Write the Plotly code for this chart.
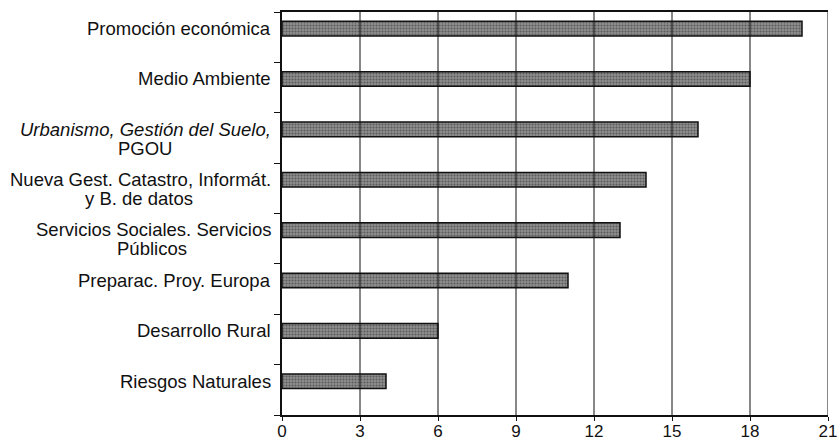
import plotly.graph_objects as go

# data
line1 = [
    "Promoción económica",
    "Medio Ambiente",
    "<i>Urbanismo, Gestión del Suelo,</i>",
    "Nueva Gest. Catastro, Informát.",
    "Servicios Sociales. Servicios",
    "Preparac. Proy. Europa",
    "Desarrollo Rural",
    "Riesgos Naturales",
]
line2 = ["", "", "PGOU", "y B. de datos", "Públicos", "", "", ""]
values = [20, 18, 16, 14, 13, 11, 6, 4]
x_ticks = [0, 3, 6, 9, 12, 15, 18, 21]

keys = ["c%d" % i for i in range(len(line1))]

# style / layout constants
FONT = "Liberation Sans, Arial, sans-serif"
LABEL_SIZE = 18.5
BAR_SHIFT_PX = 8.7          # bars sit above the slot centre
LINE_GAP_PX = 19
LINE2_CENTER_SHIFT = {2: -137, 3: -143, 4: -130}

fig = go.Figure(go.Bar(
    x=values, y=keys, orientation="h",
    marker=dict(
        color="#7a7a7a",
        line=dict(color="#111111", width=1.5),
        pattern=dict(shape=".", fgcolor="#2a2a2a", bgcolor="#8e8e8e",
                     size=3, solidity=0.4),
    ),
    width=0.29, offset=0.025,
))

annotations = []
for i, k in enumerate(keys):
    annotations.append(dict(
        x=0, xref="paper", xanchor="right", xshift=-9,
        y=k, yref="y", yanchor="middle", yshift=BAR_SHIFT_PX,
        text=line1[i], showarrow=False,
        font=dict(family=FONT, size=LABEL_SIZE, color="#111111"),
    ))
    if line2[i]:
        annotations.append(dict(
            x=0, xref="paper", xanchor="center",
            xshift=LINE2_CENTER_SHIFT[i],
            y=k, yref="y", yanchor="middle",
            yshift=BAR_SHIFT_PX - LINE_GAP_PX,
            text=line2[i], showarrow=False,
            font=dict(family=FONT, size=LABEL_SIZE, color="#111111"),
        ))

# vertical grid lines drawn above the bars, as in the reference
shapes = [
    dict(type="line", xref="x", yref="paper", x0=t, x1=t, y0=0, y1=1,
         line=dict(color="#111111", width=1), layer="above")
    for t in x_ticks[1:]
]

fig.update_layout(
    width=837, height=445,
    margin=dict(l=282, r=9, t=12, b=30),
    paper_bgcolor="white", plot_bgcolor="white",
    showlegend=False,
    annotations=annotations,
    shapes=shapes,
    font=dict(family=FONT, size=17, color="#111111"),
    xaxis=dict(
        range=[0, 21], tickvals=x_ticks, ticktext=[str(v) for v in x_ticks],
        tickfont=dict(size=17),
        ticklabeloverflow="allow",
        ticklabelstandoff=-4,
        showgrid=False,
        showline=True, linecolor="#111111", linewidth=1.5, mirror=True,
        ticks="outside", ticklen=4, tickcolor="#111111",
        zeroline=False, automargin=False,
    ),
    yaxis=dict(
        categoryorder="array", categoryarray=keys[::-1],
        range=[-0.5, len(keys) - 0.5],
        showticklabels=False,
        tickson="boundaries", ticks="outside", ticklen=6, tickcolor="#111111",
        showgrid=False, showline=True, linecolor="#111111", linewidth=1.5,
        zeroline=False, automargin=False,
    ),
)

fig.write_html(
    "out.html",
    config={"displayModeBar": False},
    post_script="document.body.style.margin='0';document.body.style.overflow='hidden';",
)
